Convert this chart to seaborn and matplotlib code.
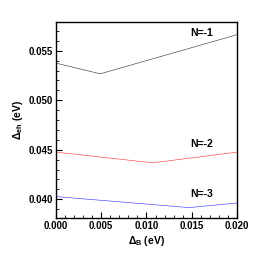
import matplotlib
matplotlib.use("Agg")
import matplotlib.pyplot as plt
import seaborn as sns
import pandas as pd
from matplotlib.ticker import MultipleLocator, FormatStrFormatter

sns.set_style("white", rc={"text.color": "black", "axes.labelcolor": "black",
                           "xtick.color": "black", "ytick.color": "black"})
plt.rcParams['font.family'] = 'Liberation Sans'
plt.rcParams['font.weight'] = 'bold'
plt.rcParams['mathtext.fontset'] = 'custom'
plt.rcParams['mathtext.rm'] = 'Liberation Sans:bold'
plt.rcParams['mathtext.it'] = 'Liberation Sans:bold'
plt.rcParams['mathtext.bf'] = 'Liberation Sans:bold'
plt.rcParams['mathtext.default'] = 'bf'

# data
n1_x = [0.0, 0.0049, 0.020]
n1_y = [0.05375, 0.05267, 0.05662]
n2_x = [0.0, 0.0107, 0.020]
n2_y = [0.04476, 0.04368, 0.04476]
n3_x = [0.0, 0.0147, 0.020]
n3_y = [0.04027, 0.03916, 0.03962]
series_names = ["N=-1", "N=-2", "N=-3"]
series_colors = ["#000000", "#ff0000", "#0000ff"]

rows = []
for name, xs, ys in zip(series_names, [n1_x, n2_x, n3_x], [n1_y, n2_y, n3_y]):
    for x, y in zip(xs, ys):
        rows.append({"dB": x, "deh": y, "N": name})
df = pd.DataFrame(rows)

fig = plt.figure(figsize=(2.59, 2.59), dpi=100)
ax = fig.add_axes([0.216, 0.158, 0.699, 0.757])
sns.lineplot(data=df, x="dB", y="deh", hue="N", palette=dict(zip(series_names, series_colors)),
             ax=ax, legend=False, linewidth=0.45, alpha=0.75, estimator=None, sort=False)

ax.set_xlim(0.0, 0.020)
ax.set_ylim(0.0381, 0.0579)
ax.xaxis.set_major_locator(MultipleLocator(0.005))
ax.xaxis.set_minor_locator(MultipleLocator(0.001))
ax.yaxis.set_major_locator(MultipleLocator(0.005))
ax.yaxis.set_minor_locator(MultipleLocator(0.001))
ax.xaxis.set_major_formatter(FormatStrFormatter('%.3f'))
ax.yaxis.set_major_formatter(FormatStrFormatter('%.3f'))
ax.tick_params(which='major', direction='in', length=4, width=0.8, labelsize=7, pad=2,
               bottom=True, left=True, top=False, right=False, colors='black')
ax.tick_params(which='minor', direction='in', length=2, width=0.6,
               bottom=True, left=True, top=False, right=False, colors='black')
for s in ax.spines.values():
    s.set_linewidth(1.0)
    s.set_color('black')

ax.set_xlabel(r"$\Delta_\mathbf{B}$ (eV)", fontsize=7.5, fontweight='bold', labelpad=2)
ax.set_ylabel(r"$\Delta_\mathbf{eh}$ (eV)", fontsize=7.5, fontweight='bold', labelpad=3)

label_pos = [(0.0161, 0.0568), (0.0161, 0.04555), (0.0161, 0.04058)]
for name, (lx, ly) in zip(series_names, label_pos):
    ax.text(lx, ly, name, fontsize=7.5, fontweight='bold', ha='center', va='center', color='black')

fig.savefig("out.png", dpi=100)
